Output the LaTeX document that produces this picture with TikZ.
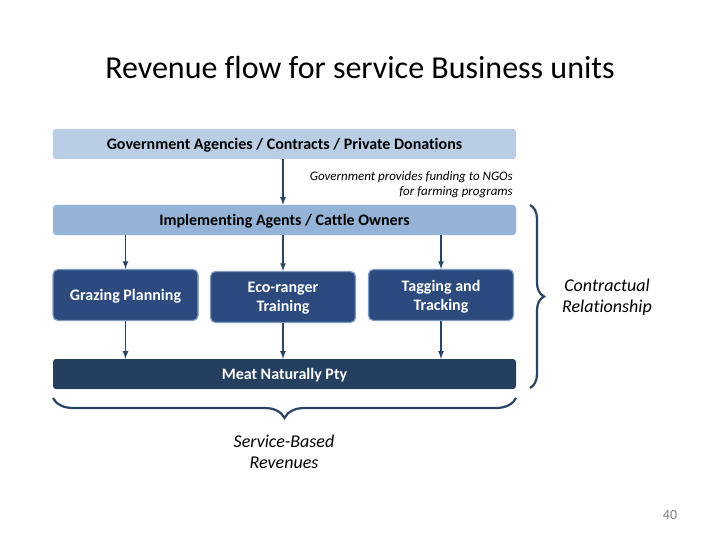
\documentclass[tikz,border=0pt]{standalone}
\usepackage{fontspec}
\setmainfont{Carlito}[Ligatures=NoCommon]
\usetikzlibrary{positioning,decorations.pathreplacing}
\definecolor{paleblue}{HTML}{B9CDE5}
\definecolor{midblue}{HTML}{95B3D7}
\definecolor{darkblue}{HTML}{2C4A7E}
\definecolor{edgeblue}{HTML}{7F9BC0}
\definecolor{navyblue}{HTML}{243F60}
\definecolor{arrowblue}{HTML}{2C4463}

\tikzset{
  bar/.style={rectangle, rounded corners=3pt, minimum width=463pt, minimum height=30pt, text height=11pt, text depth=0pt, font=\fontsize{16}{18}\selectfont\bfseries, inner sep=0pt},
  service/.style={rectangle, rounded corners=5pt, fill=darkblue, draw=edgeblue, line width=1.2pt, text=white, minimum width=145pt, minimum height=51pt, text depth=0pt, align=center, font=\fontsize{16}{19}\selectfont\bfseries},
  flow/.style={-latex, line width=1.6pt, arrowblue},
  note/.style={font=\fontsize{18}{21.5}\selectfont\itshape, align=center},
  curly/.style={decorate, decoration={brace, amplitude=#1}, line width=2.2pt, arrowblue}
}

\begin{document}
\begin{tikzpicture}[x=1pt, y=-1pt]
  \useasboundingbox (0,0) rectangle (720,540);
  \node[font=\fontsize{32}{36}\selectfont] (title) at (360,68) {Revenue flow for service Business units};

  \node[bar, fill=paleblue] (funders) at (284.5,144) {Government Agencies / Contracts / Private Donations};
  \node[bar, fill=midblue] (agents) at (284.5,220) {Implementing Agents / Cattle Owners};
  \node[bar, fill=navyblue, text=white] (meat) at (284.5,374) {Meat Naturally Pty};

  \node[service] (grazing) at (125.5,295) {Grazing Planning};
  \node[service] (ranger) at (283,297) {Eco-ranger\\Training};
  \node[service] (tagging) at (441,295) {Tagging and\\Tracking};

  \node[font=\fontsize{13}{15}\selectfont\itshape, align=right, anchor=east, inner sep=1pt] (funding) at (514,185) {Government provides funding to NGOs\\for farming programs};

  \draw[flow] (funders.south -| ranger) -- (agents.north -| ranger);
  \foreach \s in {grazing, ranger, tagging} {
    \draw[flow] (agents.south -| \s) -- (\s.north);
    \draw[flow] (\s.south) -- (meat.north -| \s);
  }

  % braces
  \coordinate (rtop) at (530,205);
  \coordinate (rbot) at (530,388);
  \draw[curly=14pt] (rtop) -- (rbot);
  \node[note] (contract) at (607,297) {Contractual\\Relationship};

  \coordinate (bleft) at (53,398);
  \coordinate (bright) at (516,398);
  \draw[curly=20pt] (bright) -- (bleft);
  \node[note] (revenue) at (284,452) {Service-Based\\Revenues};

  \node[font=\fontsize{14}{16}\selectfont, text=gray] (page) at (670,515) {40};
\end{tikzpicture}
\end{document}
